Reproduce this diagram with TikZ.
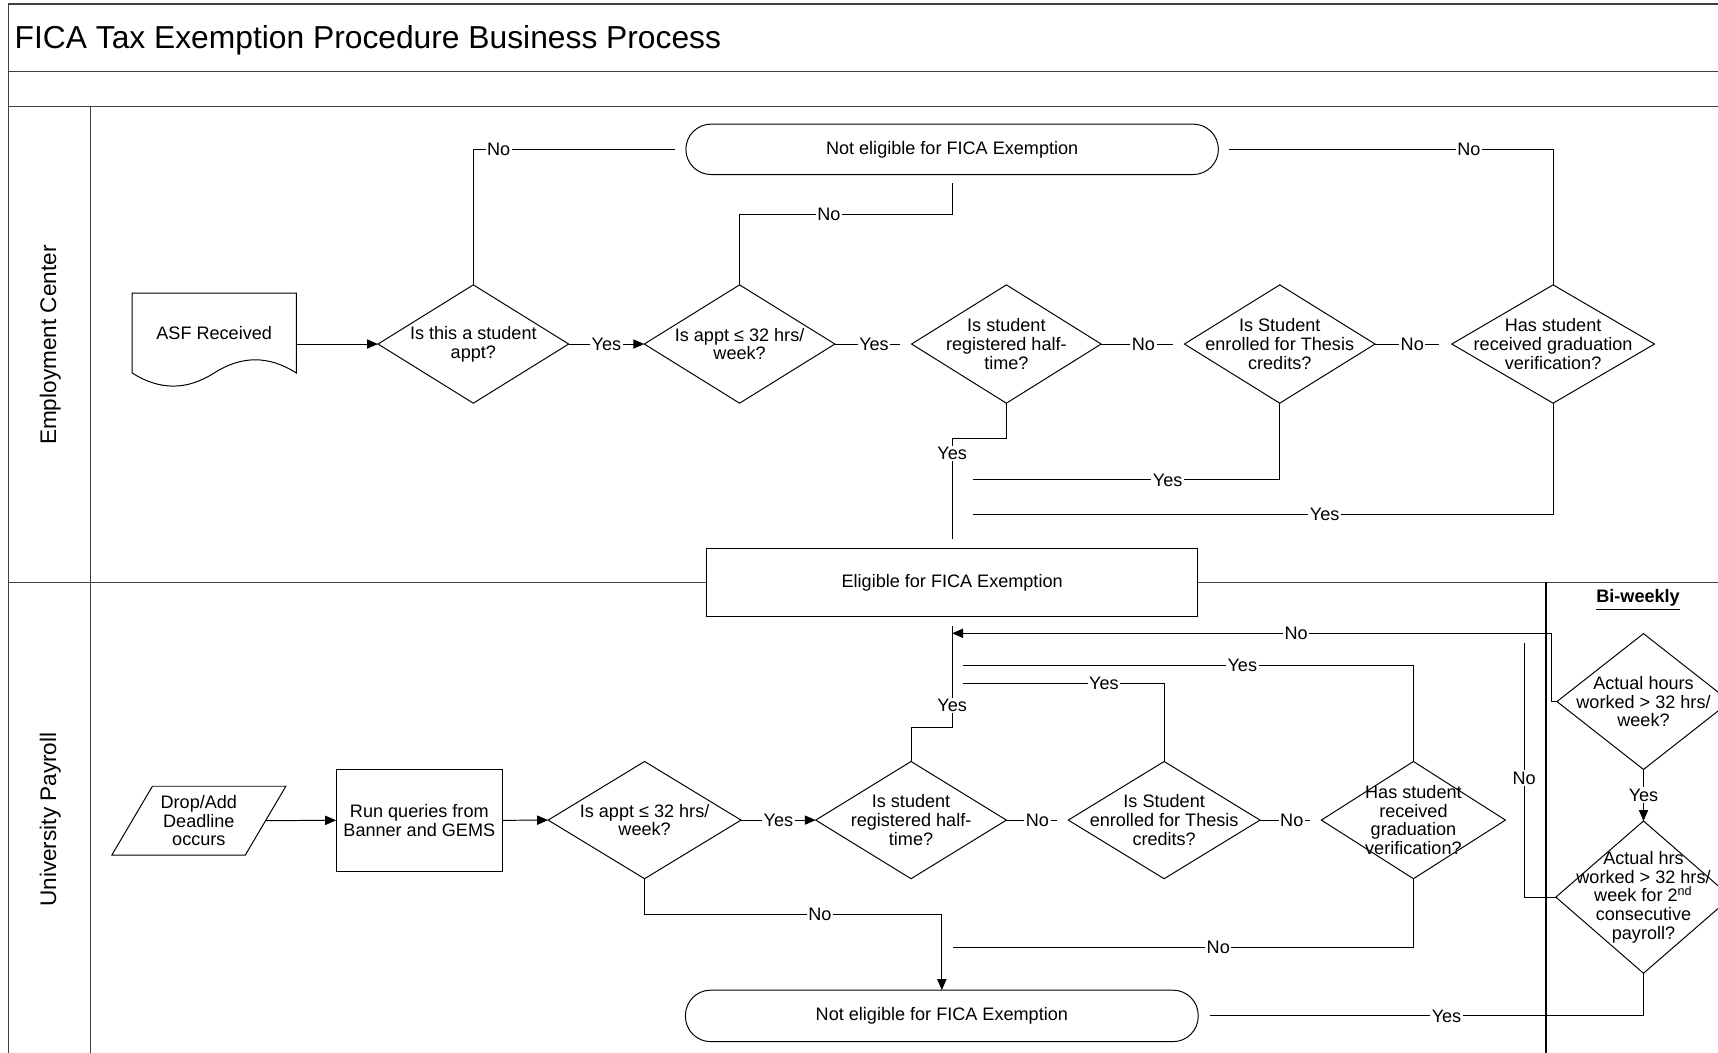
\documentclass[tikz,border=0pt]{standalone}
\usepackage{fontspec}
\setmainfont{Liberation Sans}
\usetikzlibrary{shapes.geometric,arrows.meta}
\newcommand\chartfont{\fontsize{8.25}{8.5}\selectfont}
\tikzset{
  lane/.style={line width=0.7pt, draw=black!75},
  flow/.style={line width=0.45pt},
  arr/.style={flow, -{Triangle[length=5pt,width=4.2pt]}},
  lbl/.style={fill=white, inner sep=0.7pt, font=\chartfont},
  dtxt/.style={font=\chartfont, align=center, inner sep=0pt},
  dec/.style={diamond, draw, flow, inner sep=0pt, outer sep=0pt,
    minimum width=#1, minimum height=54pt},
  term/.style={draw, flow, rounded corners=11.5pt, minimum height=23pt,
    minimum width=#1, font=\chartfont, outer sep=0pt},
  proc/.style={draw, flow, fill=white, font=\chartfont, align=center, outer sep=0pt},
}
\begin{document}
\begin{tikzpicture}[x=0.5pt, y=-0.5pt]
  \useasboundingbox (0,0) rectangle (1568,961);
  \clip (0,0) rectangle (1568,961);
  % pool and lanes
  \draw[lane] (1580,3.7) -- (7.7,3.7) -- (7.7,970);
  \draw[lane] (7.7,65.4) -- (1580,65.4);
  \draw[lane] (7.7,97.4) -- (1580,97.4);
  \draw[lane] (82.8,97.4) -- (82.8,970);
  \draw[lane] (7.7,531.5) -- (1580,531.5);
  \draw[line width=1.2pt] (1411,531.5) -- (1411,970);
  \node[anchor=west, inner sep=0pt, font=\fontsize{14.5}{17}\selectfont] (title) at (13,37)
    {FICA Tax Exemption Procedure Business Process};
  \node[rotate=90, font=\fontsize{10.3}{12}\selectfont] (lane1) at (46,315) {Employment Center};
  \node[rotate=90, font=\fontsize{10.3}{12}\selectfont] (lane2) at (46,748) {University Payroll};
  \node[font=\chartfont\bfseries] (biw) at (1495,548) {\underline{Bi-weekly}};

  % Employment Center
  \node[font=\chartfont, minimum width=74.5pt, minimum height=36pt, inner sep=0pt] (asf)
    at (195.5,304) {ASF Received};
  \draw[flow] (asf.south west) -- (asf.north west) -- (asf.north east) -- (asf.south east)
    .. controls +(-25,-16) and +(25,-16) .. (asf.south)
    .. controls +(-25,16) and +(25,16) .. (asf.south west);
  \node[dec=87pt, label={[dtxt]center:Is this a student\\appt?}] (d1) at (432,314) {};
  \node[dec=87pt, label={[dtxt]center:Is appt ≤ 32 hrs/\\week?}] (d2) at (675,314) {};
  \node[dec=86.5pt, label={[dtxt]center:Is student\\registered half-\\time?}] (d3) at (918.5,314) {};
  \node[dec=87pt, label={[dtxt]center:Is Student\\enrolled for Thesis\\credits?}] (d4) at (1168,314) {};
  \node[dec=92.5pt, label={[dtxt]center:Has student\\received graduation\\verification?}] (d5) at (1417.5,314) {};
  \node[term=243pt] (t1) at (869,136.3) {Not eligible for FICA Exemption};
  \node[proc, minimum width=224pt, minimum height=31pt] (elig) at (869,531.5)
    {Eligible for FICA Exemption};

  \coordinate (y2e) at (821.5,314);
  \coordinate (n3e) at (1070.5,314);
  \coordinate (n4e) at (1313.5,314);
  \coordinate (n1e) at (616,136.3);
  \coordinate (n2c) at (869,195.5);
  \coordinate (n2e) at (869,167);
  \coordinate (n5e) at (1122,136.3);
  \coordinate (y3c) at (869,400);
  \coordinate (y3e) at (869,492);
  \coordinate (y4e) at (888.3,438);
  \coordinate (y5e) at (888.3,469.4);

  \draw[arr] (asf.east |- d1.west) -- (d1.west);
  \draw[arr] (d1.east) -- node[lbl]{Yes} (d2.west);
  \draw[flow] (d2.east) -- node[lbl, pos=0.6]{Yes} (y2e);
  \draw[flow] (d3.east) -- node[lbl, pos=0.59]{No} (n3e);
  \draw[flow] (d4.east) -- node[lbl, pos=0.58]{No} (n4e);
  \draw[flow] (d1.north) |- node[lbl, pos=0.563]{No} (n1e);
  \draw[flow] (d2.north) |- node[lbl, pos=0.71]{No} (n2c) -- (n2e);
  \draw[flow] (d5.north) |- node[lbl, pos=0.63]{No} (n5e);
  \draw[flow] (d3.south) |- (y3c) -- node[lbl, pos=0.15]{Yes} (y3e);
  \draw[flow] (d4.south) |- node[lbl, pos=0.683]{Yes} (y4e);
  \draw[flow] (d5.south) |- node[lbl, pos=0.697]{Yes} (y5e);

  % University Payroll
  \node[font=\chartfont, align=center, minimum width=60.5pt, minimum height=31pt, inner sep=0pt]
    (drop) at (181.5,749) {Drop/Add\\Deadline\\occurs};
  \draw[flow] ([xshift=9.25pt]drop.north west) -- ([xshift=9.25pt]drop.north east)
    -- ([xshift=-9.25pt]drop.south east) -- ([xshift=-9.25pt]drop.south west) -- cycle;
  \node[proc, minimum width=75pt, minimum height=46.75pt] (run) at (382.7,748.7)
    {Run queries from\\Banner and GEMS};
  \node[dec=88pt, minimum height=53.5pt, label={[dtxt]center:Is appt ≤ 32 hrs/\\week?}] (d6) at (588.3,748.5) {};
  \node[dec=87pt, minimum height=53.5pt, label={[dtxt]center:Is student\\registered half-\\time?}] (d7) at (831.5,748.5) {};
  \node[dec=87.5pt, minimum height=53.5pt, label={[dtxt]center:Is Student\\enrolled for Thesis\\credits?}] (d8) at (1062.5,748.5) {};
  \node[dec=84pt, minimum height=53.5pt, label={[dtxt]center:Has student\\received\\graduation\\verification?}] (d9) at (1290,748.5) {};
  \node[dec=79pt, minimum height=62pt, label={[dtxt]center:Actual hours\\worked > 32 hrs/\\week?}] (d10) at (1500,640.3) {};
  \node[dec=80pt, minimum height=69.5pt, label={[dtxt]center:Actual hrs\\worked > 32 hrs/\\week for 2\textsuperscript{nd}\\consecutive\\payroll?}] (d11) at (1500,818.8) {};
  \node[term=234pt, minimum height=23.5pt] (t2) at (859.6,927.2) {Not eligible for FICA Exemption};

  \coordinate (n7e) at (965,748.5);
  \coordinate (n8e) at (1196,748.5);
  \coordinate (n6c) at (859.6,834.2);
  \coordinate (n9e) at (870,865);
  \coordinate (y7c) at (869,664);
  \coordinate (y7e) at (869,571);
  \coordinate (y8e) at (879,624);
  \coordinate (y9e) at (879,607);
  \coordinate (n10c) at (1416,640.3);
  \coordinate (n10e) at (869,578);
  \coordinate (n11e) at (1391,587);
  \coordinate (y11e) at (1104,927.2);

  \draw[arr] (drop.east) -- (run.west);
  \draw[arr] (run.east) -- (d6.west);
  \draw[arr] (d6.east) -- node[lbl]{Yes} (d7.west);
  \draw[flow] (d7.east) -- node[lbl, pos=0.61]{No} (n7e);
  \draw[flow] (d8.east) -- node[lbl, pos=0.63]{No} (n8e);
  \draw[arr] (d6.south) |- node[lbl, pos=0.795]{No} (n6c) -- (t2.north);
  \draw[flow] (d9.south) |- node[lbl, pos=0.712]{No} (n9e);
  \draw[flow] (d7.north) |- (y7c) -- node[lbl, pos=0.215]{Yes} (y7e);
  \draw[flow] (d8.north) |- node[lbl, pos=0.65]{Yes} (y8e);
  \draw[flow] (d9.north) |- node[lbl, pos=0.69]{Yes} (y9e);
  \draw[arr] (d10.west) -- (n10c) |- node[lbl, pos=0.713]{No} (n10e);
  \draw[arr] (d10.south) -- node[lbl]{Yes} (d11.north);
  \draw[flow] (d11.west) -| node[lbl, pos=0.734]{No} (n11e);
  \draw[flow] (d11.south) |- node[lbl, pos=0.727]{Yes} (y11e);
\end{tikzpicture}
\end{document}
